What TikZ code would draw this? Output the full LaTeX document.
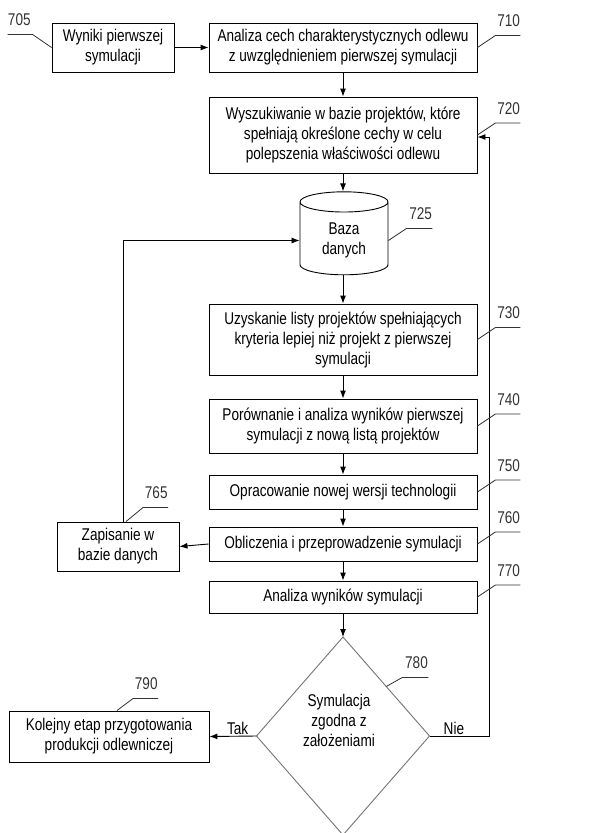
\documentclass[tikz,border=0pt]{standalone}
\usepackage{fontspec}
\setmainfont{Liberation Sans}[FakeStretch=0.8]
\usetikzlibrary{calc}
\usetikzlibrary{arrows.meta}
\usetikzlibrary{shapes.geometric}

\begin{document}
\begin{tikzpicture}[x=1pt,y=-1pt,>={Latex[length=8pt,width=6pt]},line width=0.9pt,font=\fontsize{17}{20}\selectfont]
	\tikzstyle{box}=[draw,rectangle,align=center,minimum width=268pt,inner sep=2pt]
	\tikzstyle{decision}=[draw=black!55,diamond,minimum width=173pt,minimum height=198pt,inner sep=0pt,outer sep=0pt]
	\tikzstyle{database}=[draw,cylinder,shape border rotate=90,aspect=0.4,minimum width=88pt,minimum height=83pt,align=center]
	\tikzstyle{nr}=[anchor=south east,inner sep=0pt,yshift=8pt]
	\tikzstyle{lead}=[line width=0.8pt,black!80]

	\useasboundingbox (0,0) rectangle (601,833);

	\node [box,minimum width=122pt,minimum height=49pt] (s705) at (113,47.5) {Wyniki pierwszej\\symulacji};
	\node [box,minimum height=49pt] (s710) at (343,47.5) {Analiza cech charakterystycznych odlewu\\z uwzględnieniem pierwszej symulacji};
	\node [box,minimum height=76pt] (s720) at (343,135) {Wyszukiwanie w bazie projektów, które\\spełniają określone cechy w celu\\polepszenia właściwości odlewu};
	\node [database] (c725) at (344,240.5) {Baza\\danych};
	\node [box,minimum height=71pt] (s730) at (343,339.5) {Uzyskanie listy projektów spełniających\\kryteria lepiej niż projekt z pierwszej\\symulacji};
	\node [box,minimum height=54pt] (s740) at (343,426) {Porównanie i analiza wyników pierwszej\\symulacji z nową listą projektów};
	\node [box,minimum height=34pt] (s750) at (343,492) {Opracowanie nowej wersji technologii};
	\node [box,minimum height=34pt] (s760) at (343,544) {Obliczenia i przeprowadzenie symulacji};
	\node [box,minimum height=32pt] (s770) at (343,597) {Analiza wyników symulacji};
	\node [box,minimum width=122pt,minimum height=49pt] (s765) at (118,546.5) {Zapisanie w\\bazie danych};
	\node [decision] (d780) at (343,736) {};
	\node [align=center] (t780) at (339,720) {Symulacja\\zgodna z\\założeniami};
	\node [box,minimum width=200pt,minimum height=51pt] (s790) at (109,736.5) {Kolejny etap przygotowania\\produkcji odlewniczej};

	\coordinate (r1) at (489,736);

	\draw[->] (s705.east) -- (s710.west);
	\draw[->] (s710.south) -- (s720.north);
	\draw[->] (s720.south) -- (s720.south |- c725.north);
	\draw[->] (s730.north |- c725.south) -- (s730.north);
	\draw[->] (s730.south) -- (s740.north);
	\draw[->] (s740.south) -- (s750.north);
	\draw[->] (s750.south) -- (s760.north);
	\draw[->] (s760.south) -- (s770.north);
	\draw[->] (s770.south) -- (d780.north);
	\draw[->] (s760.west) -- (s765.east);
	\draw[->] ([xshift=5pt]s765.north) |- (c725.west);
	\draw[->] (d780.west) -- node[pos=0.4,anchor=south,inner sep=1pt] {Tak} (s790.east);
	\draw[->] (d780.east) -- node[pos=0.41,anchor=south,inner sep=1pt] {Nie} (r1) |- ([yshift=-2pt]s720.east);

	\draw[lead] (s705.west) -- ++(-19,-13) -- ++(-25,0) node[nr,anchor=south west] (n705) {705};
	\draw[lead] (s710.east) -- ++(18,-12) -- ++(25,0) node[nr] (n710) {710};
	\draw[lead] (s720.east) -- ++(18,-12) -- ++(25,0) node[nr] (n720) {720};
	\draw[lead] (c725.east) -- ++(18,-12) -- ++(26,0) node[nr] (n725) {725};
	\draw[lead] (s730.east) -- ++(18,-12) -- ++(25,0) node[nr] (n730) {730};
	\draw[lead] (s740.east) -- ++(18,-12) -- ++(25,0) node[nr] (n740) {740};
	\draw[lead] (s750.east) -- ++(18,-12) -- ++(25,0) node[nr] (n750) {750};
	\draw[lead] (s760.east) -- ++(18,-12) -- ++(25,0) node[nr] (n760) {760};
	\draw[lead] (s770.east) -- ++(18,-12) -- ++(25,0) node[nr] (n770) {770};
	\draw[lead] ([xshift=8pt]s765.north) -- ++(17,-14) -- ++(25,0) node[nr] (n765) {765};
	\draw[lead] (d780.north east) -- ++(16,-9) -- ++(26,0) node[nr] (n780) {780};
	\draw[lead] ([xshift=8pt]s790.north) -- ++(16,-12) -- ++(25,0) node[nr] (n790) {790};

\end{tikzpicture}
\end{document}
